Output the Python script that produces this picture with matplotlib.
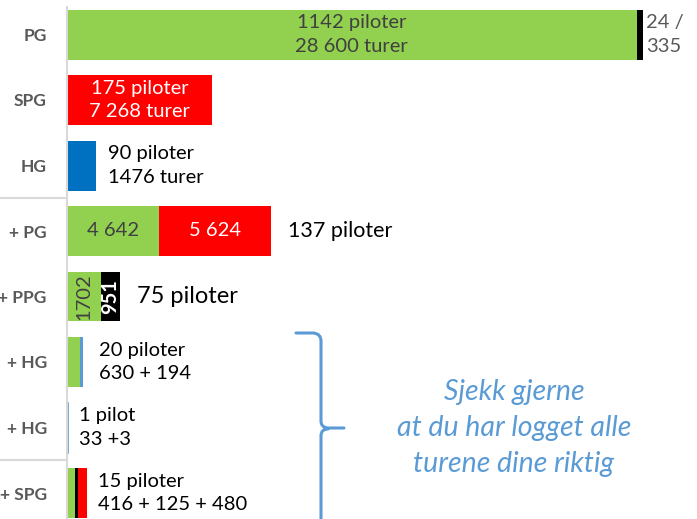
import matplotlib
matplotlib.use("Agg")
import matplotlib.pyplot as plt
import matplotlib.transforms as mtransforms
from matplotlib.path import Path
from matplotlib.patches import PathPatch

plt.rcParams['font.family'] = ['Lato', 'DejaVu Sans']

# ---- data -------------------------------------------------------------
categories = ["PG", "SPG", "HG", "+ PG", "+ PPG", "+ HG", "+ HG", "+ SPG"]
row_values = [
    [28600, 335],
    [7268],
    [1476],
    [4642, 5624],
    [1702, 951],
    [630, 194],
    [33, 3],
    [416, 125, 480],
]
GREEN, RED, BLUE, LBLUE, BLACK = "#92D050", "#FF0000", "#0070C0", "#5B9BD5", "#000000"
row_colors = [
    [GREEN, BLACK],
    [RED],
    [BLUE],
    [GREEN, RED],
    [GREEN, BLACK],
    [GREEN, LBLUE],
    [LBLUE, LBLUE],
    [GREEN, BLACK, RED],
]
pilots = ["1142 piloter", "175 piloter", "90 piloter", "137 piloter", "75 piloter",
          "20 piloter", "1 pilot", "15 piloter"]
trips = ["28 600 turer", "7 268 turer", "1476 turer", None, None,
         "630 + 194", "33 +3", "416 + 125 + 480"]
pg_extra = "24 /\n335"
seg_labels_row3 = ["4 642", "5 624"]
seg_labels_row4 = ["1702", "951"]
note = "Sjekk gjerne\nat du har logget alle\nturene dine riktig"

# ---- figure -----------------------------------------------------------
W, H, DPI = 697, 519, 100
fig = plt.figure(figsize=(W / DPI, H / DPI), dpi=DPI)
ax_left, ax_top = 67, 7
ax = fig.add_axes([ax_left / W, 0, (W - ax_left) / W, (H - ax_top) / H])

px_per_trip = 0.01992
ax.set_xlim(0, (W - ax_left) / px_per_trip)
row_step = 65.5
first_center = 34.5 - ax_top
ax.set_ylim((H - ax_top - first_center) / row_step, -first_center / row_step)

bar_h = 50 / row_step
ends = []
for i, (vals, cols) in enumerate(zip(row_values, row_colors)):
    left = 0
    for v, c in zip(vals, cols):
        ax.barh(i, v, left=left, height=bar_h, color=c, linewidth=0)
        left += v
    ends.append(left)

# thin single pilot bar needs a visible edge
ax.barh(6, sum(row_values[6]), height=bar_h, color=LBLUE, edgecolor=LBLUE, linewidth=1.2)

ax.set_yticks(range(len(categories)))
ax.set_yticklabels(categories, fontsize=12.5, fontweight="bold", color="#595959")
ax.tick_params(axis="y", length=0, pad=14.5)
ax.set_xticks([])
for s in ["top", "right", "bottom"]:
    ax.spines[s].set_visible(False)
ax.spines["left"].set_color("#D9D9D9")
ax.spines["left"].set_linewidth(1.5)

fs = 14.5
ls = 1.45
dark = "#404040"
# row 0
ax.text(row_values[0][0] / 2, 0, pilots[0] + "\n" + trips[0], ha="center", va="center",
        fontsize=fs, color=dark, linespacing=ls)
ax.annotate(pg_extra, (ends[0], 0), xytext=(2, 0), textcoords="offset points",
            ha="left", va="center", fontsize=fs, color="#595959", linespacing=ls)
# row 1
ax.text(row_values[1][0] / 2, 1, pilots[1] + "\n" + trips[1], ha="center", va="center",
        fontsize=fs, color="white", linespacing=ls)
# row 2
ax.annotate(pilots[2] + "\n" + trips[2], (ends[2], 2), xytext=(8, 0), textcoords="offset points",
            ha="left", va="center", fontsize=fs, color="black", linespacing=ls)
# row 3
ax.text(row_values[3][0] / 2, 3, seg_labels_row3[0], ha="center", va="center", fontsize=fs, color=dark)
ax.text(row_values[3][0] + row_values[3][1] / 2, 3, seg_labels_row3[1], ha="center", va="center",
        fontsize=fs, color="white")
ax.annotate(pilots[3], (ends[3], 3), xytext=(12, 0), textcoords="offset points",
            ha="left", va="center", fontsize=15.5, color="black")
# row 4
ax.text(row_values[4][0] / 2, 4, seg_labels_row4[0], ha="center", va="center", fontsize=fs,
        color=dark, rotation=90)
ax.text(row_values[4][0] + row_values[4][1] / 2, 4, seg_labels_row4[1], ha="center", va="center",
        fontsize=fs, color="white", rotation=90, fontweight="bold")
ax.annotate(pilots[4], (ends[4], 4), xytext=(12, 0), textcoords="offset points",
            ha="left", va="center", fontsize=17, color="black")
# rows 5-7
for i, off in zip([5, 6, 7], [11, 8, 8]):
    ax.annotate(pilots[i] + "\n" + trips[i], (ends[i], i), xytext=(off, 0), textcoords="offset points",
                ha="left", va="center", fontsize=fs, color="black", linespacing=ls)

# separators left of axis
bt = mtransforms.blended_transform_factory(fig.transFigure, ax.transData)
for y in [2.5, 6.5]:
    ax.plot([0, (ax_left - 1) / W], [y, y], transform=bt, color="#D9D9D9", lw=1.5, clip_on=False)

# bracket + note (pixel coordinates, y down)
pix = mtransforms.Affine2D().scale(1 / DPI, -1 / DPI).translate(0, H / DPI) + fig.dpi_scale_trans
verts = [(296, 333), (313, 333), (321, 333.5), (321, 341), (321, 421),
         (321, 427.5), (328, 428), (344, 428),
         (328, 429), (321, 429), (321, 436), (321, 540)]
codes = [Path.MOVETO, Path.LINETO, Path.CURVE3, Path.CURVE3, Path.LINETO,
         Path.CURVE3, Path.CURVE3, Path.LINETO,
         Path.MOVETO, Path.CURVE3, Path.CURVE3, Path.LINETO]
fig.patches.append(PathPatch(Path(verts, codes), transform=pix, fill=False,
                             edgecolor=LBLUE, lw=2.2, capstyle="round"))
fig.text(514, 428, note, transform=pix, ha="center", va="center", fontsize=20.5,
         style="italic", color=LBLUE, linespacing=1.48)

fig.savefig("out.png", dpi=DPI)
